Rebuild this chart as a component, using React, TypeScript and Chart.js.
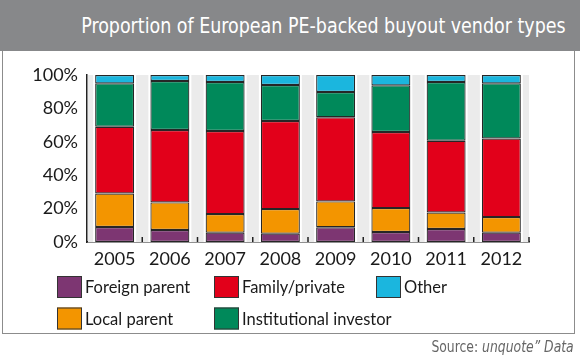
import React, { useEffect, useRef } from "react";
import { Chart, registerables } from "chart.js";

Chart.register(...registerables);

const years = ["2005", "2006", "2007", "2008", "2009", "2010", "2011", "2012"];
const foreignParent = [9, 7.2, 5.6, 5, 8.8, 6, 7.8, 5.6];
const localParent = [20, 16.5, 11.1, 14.7, 15.5, 14.3, 9.9, 9.3];
const familyPrivate = [40, 43.4, 49.8, 52.8, 50.4, 45.6, 42.9, 47.1];
const institutionalInvestor = [26, 29.3, 29.3, 21.5, 15.1, 27.9, 35.2, 33];
const other = [5, 3.6, 4.2, 6, 10.2, 6.2, 4.2, 5];

const seriesNames = ["Foreign parent", "Local parent", "Family/private", "Institutional investor", "Other"];
const seriesColors = ["#7d3672", "#f39500", "#e2001a", "#00895a", "#1bb6de"];

const FONT = "Lato, 'Open Sans', sans-serif";

const backdropPlugin = {
  id: "backdrop",
  beforeDatasetsDraw(chart: any) {
    const { ctx, chartArea } = chart;
    const { left, right, top, bottom } = chartArea;
    ctx.save();
    ctx.fillStyle = "#ebebeb";
    ctx.fillRect(left + 1, top, right - left - 1, bottom - top);
    ctx.fillStyle = "#ffffff";
    const meta = chart.getDatasetMeta(0);
    meta.data.forEach((bar: any) => {
      const p = bar.getProps(["x", "width"], true);
      ctx.fillRect(p.x - p.width / 2 - 2, top, p.width + 4, bottom - top);
    });
    ctx.restore();
  },
  afterDatasetsDraw(chart: any) {
    const { ctx, chartArea, scales } = chart;
    const xs = scales.x;
    const n = chart.data.labels.length;
    ctx.save();
    ctx.strokeStyle = "#222";
    ctx.lineWidth = 1.5;
    for (let i = 0; i < n; i++) {
      const x =
        i < n - 1
          ? (xs.getPixelForTick(i) + xs.getPixelForTick(i + 1)) / 2
          : chartArea.right;
      ctx.beginPath();
      ctx.moveTo(x, chartArea.bottom);
      ctx.lineTo(x, chartArea.bottom - 5);
      ctx.stroke();
    }
    ctx.restore();
  },
};

const legendPlugin = {
  id: "gridLegend",
  afterDraw(chart: any) {
    const { ctx } = chart;
    const colX = [57, 214, 376];
    const rowY = [287, 318.5];
    ctx.save();
    ctx.font = `16.5px ${FONT}`;
    ctx.textBaseline = "middle";
    ctx.textAlign = "left";
    chart.data.datasets.forEach((ds: any, i: number) => {
      const col = Math.floor(i / 2);
      const row = i % 2;
      const x = colX[col];
      const y = rowY[row];
      ctx.fillStyle = ds.backgroundColor;
      ctx.fillRect(x, y - 11, 25, 22);
      ctx.strokeStyle = "#333";
      ctx.lineWidth = 1;
      ctx.strokeRect(x + 0.5, y - 10.5, 24, 21);
      ctx.fillStyle = "#1a1a1a";
      ctx.fillText(ds.label, x + 28, y + 1);
    });
    ctx.restore();
  },
};

export default function App() {
  const canvasRef = useRef<HTMLCanvasElement | null>(null);

  useEffect(() => {
    if (!canvasRef.current) return;
    const data = [foreignParent, localParent, familyPrivate, institutionalInvestor, other];
    const chart = new Chart(canvasRef.current, {
      type: "bar",
      data: {
        labels: years,
        datasets: data.map((d, i) => ({
          label: seriesNames[i],
          data: d,
          backgroundColor: seriesColors[i],
          borderColor: "#262626",
          borderWidth: 1.2,
          borderSkipped: false,
          barPercentage: 0.705,
          categoryPercentage: 1,
        })),
      },
      options: {
        animation: false,
        responsive: false,
        maintainAspectRatio: false,
        layout: { padding: { top: 75, right: 51, left: 0, bottom: 0 } },
        plugins: {
          legend: { display: false },
          title: { display: false },
          tooltip: { enabled: false },
        },
        scales: {
          x: {
            stacked: true,
            grid: { display: false, drawTicks: false },
            border: { display: true, color: "#222", width: 1.5 },
            ticks: {
              padding: 6,
              color: "#1a1a1a",
              font: { family: FONT, size: 18, lineHeight: 1.2 },
              maxRotation: 0,
            },
            afterFit: (s: any) => {
              s.height = 116;
            },
          },
          y: {
            stacked: true,
            min: 0,
            max: 100,
            grid: { display: false, drawTicks: false },
            border: { display: true, color: "#222", width: 1.5 },
            ticks: {
              stepSize: 20,
              padding: 9,
              color: "#1a1a1a",
              font: { family: FONT, size: 18 },
              callback: (v: any) => `${v}%`,
            },
            afterFit: (s: any) => {
              s.width = 87;
            },
          },
        },
      },
      plugins: [backdropPlugin, legendPlugin],
    });
    return () => chart.destroy();
  }, []);

  const condensed = "'Liberation Sans Narrow', 'DejaVu Sans Condensed', 'Roboto', sans-serif";

  return (
    <div
      style={{
        position: "fixed",
        left: 0,
        top: 0,
        width: 580,
        height: 358,
        background: "#fff",
        overflow: "hidden",
      }}
    >
      <div
        style={{
          position: "absolute",
          left: 2,
          top: 0,
          width: 573,
          height: 334,
          border: "1.5px solid #8c8c8c",
          boxSizing: "border-box",
        }}
      />
      <div
        style={{
          position: "absolute",
          left: 0,
          top: 0,
          width: 580,
          height: 51,
          background: "#87888a",
        }}
      />
      <div
        style={{
          position: "absolute",
          right: 14,
          top: 13,
          color: "#fff",
          fontFamily: condensed,
          fontStretch: "condensed",
          fontSize: 22,
          lineHeight: "26px",
          whiteSpace: "nowrap",
          transform: "scaleX(0.883)",
          transformOrigin: "right center",
        }}
      >
        Proportion of European PE-backed buyout vendor types
      </div>
      <canvas
        ref={canvasRef}
        width={580}
        height={358}
        style={{ position: "absolute", left: 0, top: 0, width: 580, height: 358 }}
      />
      <div
        style={{
          position: "absolute",
          right: 6,
          top: 338,
          color: "#666",
          fontFamily: condensed,
          fontStretch: "condensed",
          fontSize: 15,
          lineHeight: "18px",
          whiteSpace: "nowrap",
          transform: "scaleX(0.92)",
          transformOrigin: "right center",
        }}
      >
        Source: <i>unquote” Data</i>
      </div>
    </div>
  );
}
